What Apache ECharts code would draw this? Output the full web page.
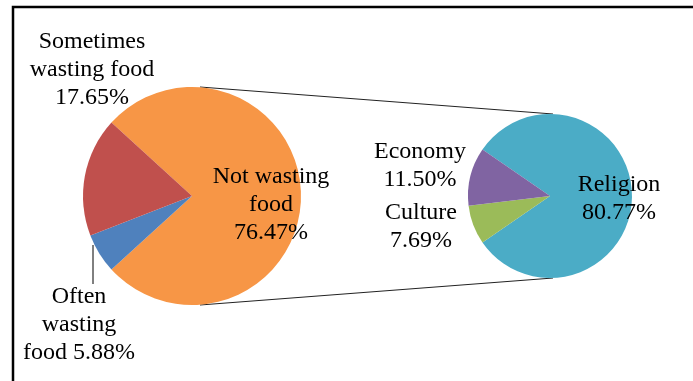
<!DOCTYPE html>
<html>
<head>
<meta charset="utf-8">
<script src="https://cdn.jsdelivr.net/npm/echarts@6/dist/echarts.min.js"></script>
<style>
  html, body { margin: 0; padding: 0; background: #fff; }
  #chart { width: 693px; height: 381px; }
</style>
</head>
<body>
<div id="chart"></div>
<script>
// main pie: food wasting behaviour
const wasteNames = ['Not wasting\nfood', 'Often\nwasting\nfood', 'Sometimes\nwasting food']
const wasteValues = [76.47, 5.88, 17.65]
const wasteColors = ['#F79646', '#4F81BD', '#C0504D']

// secondary pie: reasons for not wasting
const reasonNames = ['Religion', 'Culture', 'Economy']
const reasonValues = [80.77, 7.69, 11.50]
const reasonColors = ['#4BACC6', '#9BBB59', '#8064A2']

const font = { fontFamily: 'Liberation Serif', fontSize: 24, lineHeight: 28, color: '#000' }

const leftCenter = [192, 196], leftR = 109
const rightCenter = [550, 196], rightR = 82

// label anchor points (x, y) per slice
const wasteLabelPos = [[271, 205], [79, 325], [92, 70]]
const reasonLabelPos = [[619, 199], [421, 227], [420, 166]]

function sum(a) { return a.reduce((s, v) => s + v, 0) }
// wrap every line in the rich style so the serif font sticks
function rich(text) { return text.split('\n').map((l) => '{t|' + l + '}').join('\n') }

const chart = echarts.init(document.getElementById('chart'))

chart.setOption({
  backgroundColor: '#fff',
  animation: false,
  graphic: [
    {
      type: 'rect',
      shape: { x: 13, y: 7, width: 720, height: 420 },
      style: { fill: 'none', stroke: '#000', lineWidth: 2.5 },
    },
    {
      type: 'line',
      shape: { x1: leftCenter[0] + 8, y1: leftCenter[1] - leftR, x2: rightCenter[0] + 3, y2: rightCenter[1] - rightR },
      style: { stroke: '#222', lineWidth: 1 },
    },
    {
      type: 'line',
      shape: { x1: leftCenter[0] + 8, y1: leftCenter[1] + leftR, x2: rightCenter[0] + 3, y2: rightCenter[1] + rightR },
      style: { stroke: '#222', lineWidth: 1 },
    },
  ],
  series: [
    {
      type: 'pie',
      center: leftCenter,
      radius: [0, leftR],
      startAngle: wasteValues[0] / sum(wasteValues) * 180,
      clockwise: true,
      silent: true,
      avoidLabelOverlap: false,
      itemStyle: { borderWidth: 0 },
      label: {
        show: true,
        position: 'outside',
        overflow: 'none',
        ...font,
        rich: { t: { ...font } },
        formatter: (p) => rich(p.name + (p.dataIndex === 1 ? ' ' : '\n') + p.value.toFixed(2) + '%'),
      },
      labelLine: { show: false },
      labelLayout: (params) => {
        const pos = wasteLabelPos[params.dataIndex]
        const out = { x: pos[0], y: pos[1], align: 'center', verticalAlign: 'middle' }
        if (params.dataIndex === 1) out.labelLinePoints = [[93, 245], [93, 265], [93, 284]]
        return out
      },
      data: wasteValues.map((v, i) => ({
        name: wasteNames[i],
        value: v,
        itemStyle: { color: wasteColors[i] },
        labelLine: { show: i === 1, lineStyle: { color: '#000', width: 1 } },
      })),
    },
    {
      type: 'pie',
      center: rightCenter,
      radius: [0, rightR],
      startAngle: reasonValues[0] / sum(reasonValues) * 180,
      clockwise: true,
      silent: true,
      avoidLabelOverlap: false,
      itemStyle: { borderWidth: 0 },
      label: {
        show: true,
        position: 'outside',
        overflow: 'none',
        ...font,
        rich: { t: { ...font } },
        formatter: (p) => rich(p.name + '\n' + p.value.toFixed(2) + '%'),
      },
      labelLine: { show: false },
      labelLayout: (params) => {
        const pos = reasonLabelPos[params.dataIndex]
        return { x: pos[0], y: pos[1], align: 'center', verticalAlign: 'middle' }
      },
      data: reasonValues.map((v, i) => ({
        name: reasonNames[i],
        value: v,
        itemStyle: { color: reasonColors[i] },
      })),
    },
  ],
})
</script>
</body>
</html>
